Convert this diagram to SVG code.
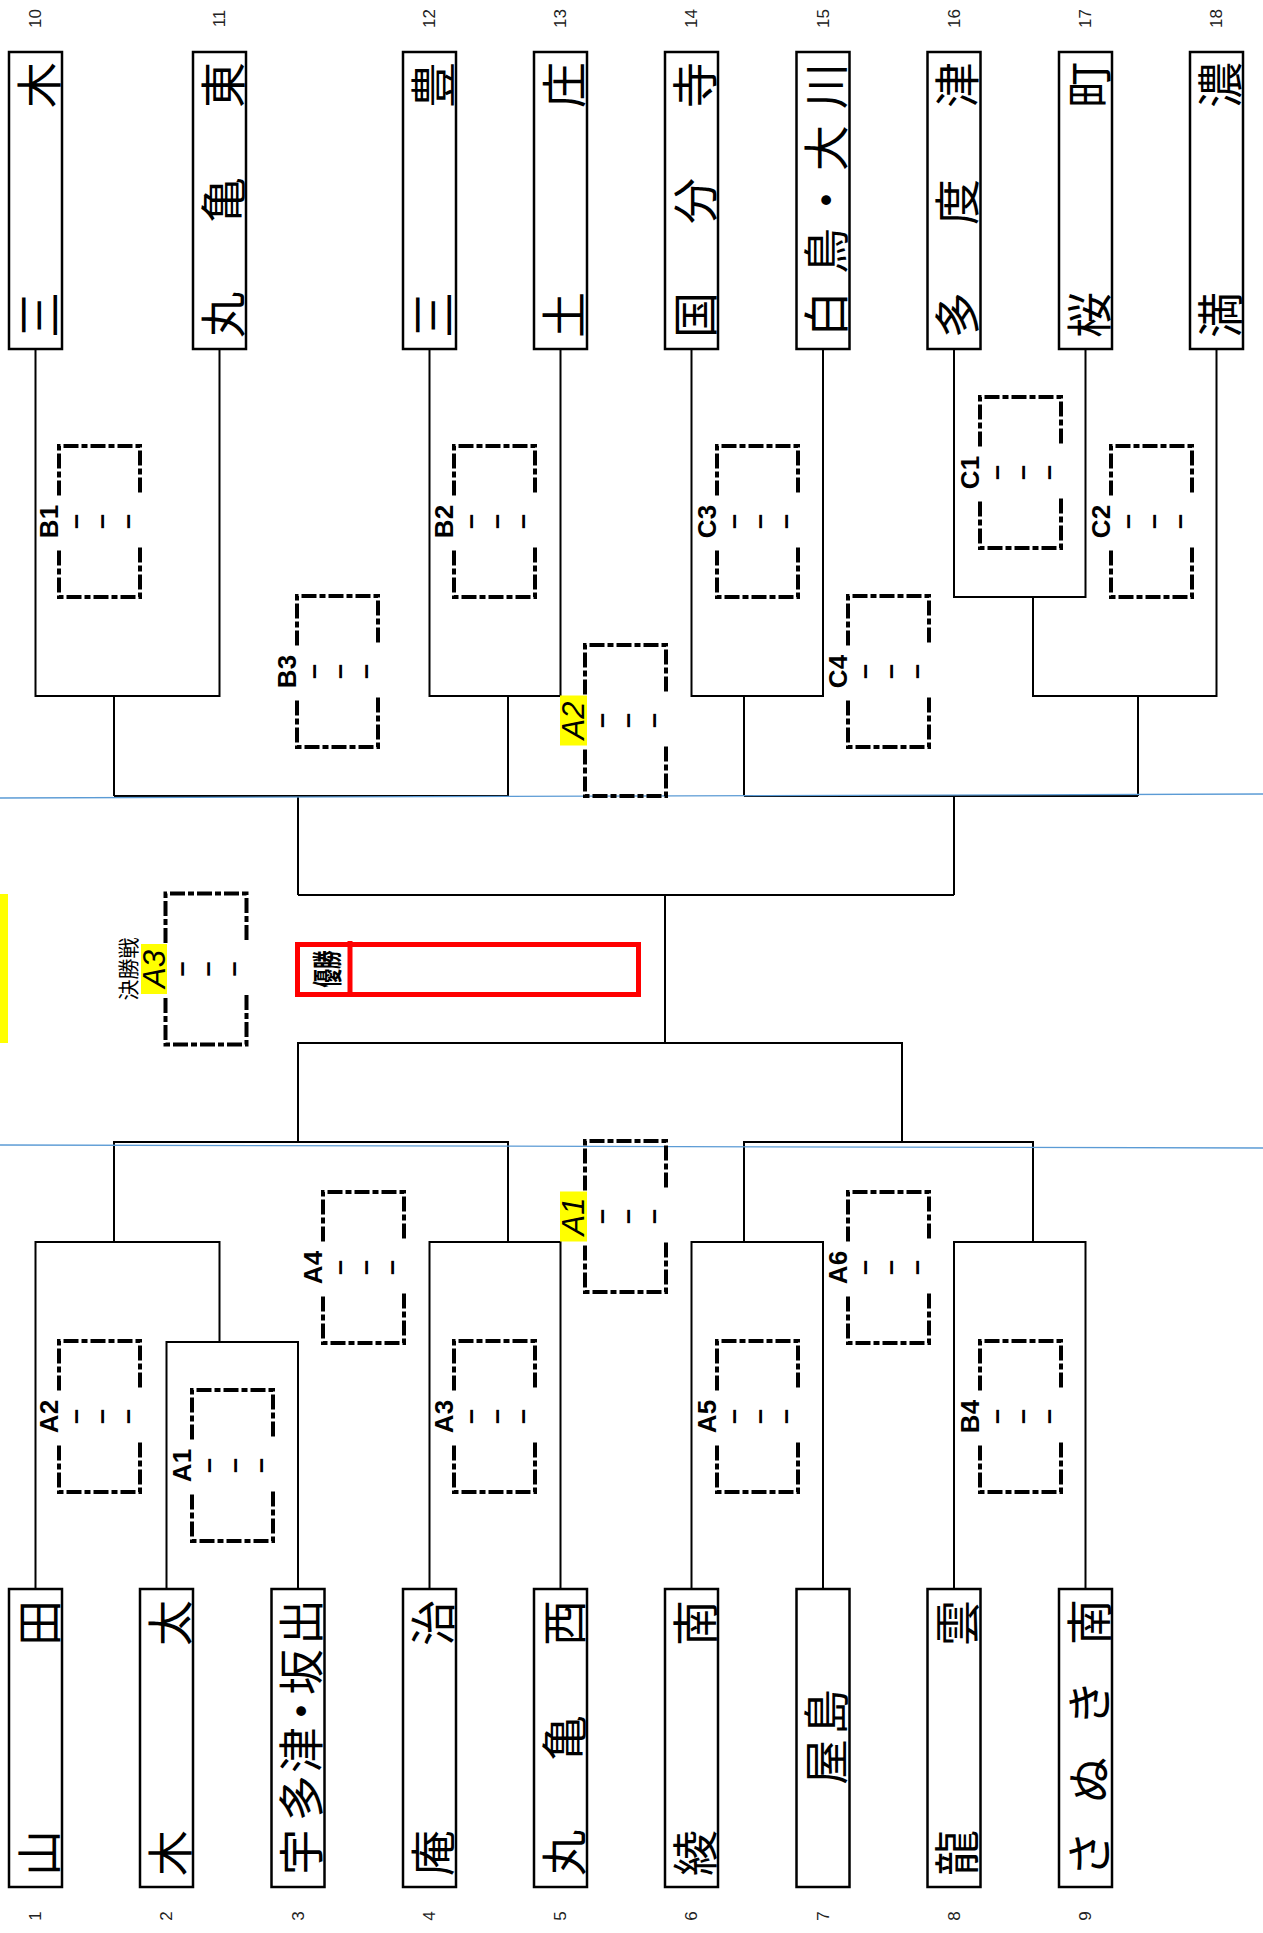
<svg xmlns="http://www.w3.org/2000/svg" xmlns:xlink="http://www.w3.org/1999/xlink" width="1263" height="1933" viewBox="0 0 1263 1933">
<style>
.ln{stroke:#000;stroke-width:2;fill:none}
.tb{fill:#fff;stroke:#000;stroke-width:2.5}
.tn{font-family:"Noto Sans CJK JP","Noto Sans CJK SC",sans-serif;font-size:46px;text-anchor:middle;dominant-baseline:central;fill:#000}
.num{font-family:"Liberation Sans",Arial,sans-serif;font-size:17px;text-anchor:middle;dominant-baseline:central;fill:#222}
.mf{fill:none;stroke:#000;stroke-width:4;stroke-dasharray:15 3 6 3}
.ml{font-family:"Liberation Sans",Arial,sans-serif;font-weight:bold;font-size:26px;text-anchor:middle;fill:#000}
.yl{font-family:"Liberation Sans",Arial,sans-serif;font-style:italic;font-size:31px;text-anchor:middle;fill:#000}
.sc{font-family:"Liberation Sans",Arial,sans-serif;font-weight:bold;font-size:27px;text-anchor:middle;dominant-baseline:central;fill:#000}
.hl{fill:#ffff00}
.blue{stroke:#5b9bd5;stroke-width:1.3;fill:none}
</style>
<defs>
<path id="frame" class="mf" d="M-40.5,-26 V-75.5 H40.5 V-26 M40.5,26 V75.5 H-40.5 V26"/>
<g id="score"><text class="sc"><tspan x="0" y="-25">–</tspan><tspan x="0" y="1">–</tspan><tspan x="0" y="27">–</tspan></text></g>
</defs>
<rect width="1263" height="1933" fill="#fff"/>

<g id="connectors">
<path class="ln" d="M35.5,349 V696 H219.5 V349"/>
<path class="ln" d="M114,696 V796"/>
<path class="ln" d="M429.5,349 V696 H560.5 V349"/>
<path class="ln" d="M508,696 V796"/>
<path class="ln" d="M114,796 H508"/>
<path class="ln" d="M298,796 V895"/>
<path class="ln" d="M691.5,349 V696 H823 V349"/>
<path class="ln" d="M744,696 V796"/>
<path class="ln" d="M954,349 V597 H1085.5 V349"/>
<path class="ln" d="M1033,597 V696 H1216.5 V349"/>
<path class="ln" d="M1138,696 V796"/>
<path class="ln" d="M744,796 H1138"/>
<path class="ln" d="M954,796 V895"/>
<path class="ln" d="M298,895 H954"/>
<path class="ln" d="M665,895 V1043"/>
<path class="ln" d="M298,1142 V1043 H902 V1142"/>
<path class="ln" d="M114,1242 V1142 H508 V1242"/>
<path class="ln" d="M744,1242 V1142 H1033 V1242"/>
<path class="ln" d="M35.5,1589 V1242 H219.5 V1342"/>
<path class="ln" d="M166.5,1589 V1342 H298 V1589"/>
<path class="ln" d="M429.5,1589 V1242 H560.5 V1589"/>
<path class="ln" d="M691.5,1589 V1242 H823 V1589"/>
<path class="ln" d="M954,1589 V1242 H1085.5 V1589"/>
</g>

<g id="guides">
<line class="blue" x1="0" y1="798" x2="1263" y2="794"/>
<line class="blue" x1="0" y1="1145" x2="1263" y2="1148"/>
<rect class="hl" x="0" y="894" width="8" height="149"/>
</g>

<g id="teams-top">
<g id="team-10"><rect class="tb" x="9" y="52" width="53" height="297"/><text class="num" transform="translate(35.5,18.5) rotate(-90)">10</text><text class="tn" transform="translate(35.5,0) rotate(-90)" x="-315 -85">三木</text></g>
<g id="team-11"><rect class="tb" x="193" y="52" width="53" height="297"/><text class="num" transform="translate(219.5,18.5) rotate(-90)">11</text><text class="tn" transform="translate(219.5,0) rotate(-90)" x="-315 -200 -85">丸亀東</text></g>
<g id="team-12"><rect class="tb" x="403" y="52" width="53" height="297"/><text class="num" transform="translate(429.5,18.5) rotate(-90)">12</text><text class="tn" transform="translate(429.5,0) rotate(-90)" x="-315 -85">三豊</text></g>
<g id="team-13"><rect class="tb" x="534" y="52" width="53" height="297"/><text class="num" transform="translate(560.5,18.5) rotate(-90)">13</text><text class="tn" transform="translate(560.5,0) rotate(-90)" x="-315 -85">土庄</text></g>
<g id="team-14"><rect class="tb" x="665" y="52" width="53" height="297"/><text class="num" transform="translate(691.5,18.5) rotate(-90)">14</text><text class="tn" transform="translate(691.5,0) rotate(-90)" x="-315 -201 -85">国分寺</text></g>
<g id="team-15"><rect class="tb" x="796.5" y="52" width="53" height="297"/><text class="num" transform="translate(823,18.5) rotate(-90)">15</text><text class="tn" transform="translate(823,0) rotate(-90)" x="-314 -251 -200 -148 -86">白鳥・大川</text></g>
<g id="team-16"><rect class="tb" x="927.5" y="52" width="53" height="297"/><text class="num" transform="translate(954,18.5) rotate(-90)">16</text><text class="tn" transform="translate(954,0) rotate(-90)" x="-315 -202 -85">多度津</text></g>
<g id="team-17"><rect class="tb" x="1059" y="52" width="53" height="297"/><text class="num" transform="translate(1085.5,18.5) rotate(-90)">17</text><text class="tn" transform="translate(1085.5,0) rotate(-90)" x="-315 -85">桜町</text></g>
<g id="team-18"><rect class="tb" x="1190" y="52" width="53" height="297"/><text class="num" transform="translate(1216.5,18.5) rotate(-90)">18</text><text class="tn" transform="translate(1216.5,0) rotate(-90)" x="-315 -85">満濃</text></g>
</g>

<g id="teams-bottom">
<g id="team-1"><rect class="tb" x="9" y="1589" width="53" height="298"/><text class="num" transform="translate(35.5,1916) rotate(-90)">1</text><text class="tn" transform="translate(35.5,0) rotate(-90)" x="-1853 -1623">山田</text></g>
<g id="team-2"><rect class="tb" x="140" y="1589" width="53" height="298"/><text class="num" transform="translate(166.5,1916) rotate(-90)">2</text><text class="tn" transform="translate(166.5,0) rotate(-90)" x="-1853 -1623">木太</text></g>
<g id="team-3"><rect class="tb" x="271.5" y="1589" width="53" height="298"/><text class="num" transform="translate(298,1916) rotate(-90)">3</text><text class="tn" transform="translate(298,0) rotate(-90)" x="-1852 -1798 -1750 -1711 -1672 -1622">宇多津・坂出</text></g>
<g id="team-4"><rect class="tb" x="403" y="1589" width="53" height="298"/><text class="num" transform="translate(429.5,1916) rotate(-90)">4</text><text class="tn" transform="translate(429.5,0) rotate(-90)" x="-1853 -1623">庵治</text></g>
<g id="team-5"><rect class="tb" x="534" y="1589" width="53" height="298"/><text class="num" transform="translate(560.5,1916) rotate(-90)">5</text><text class="tn" transform="translate(560.5,0) rotate(-90)" x="-1853 -1738 -1623">丸亀西</text></g>
<g id="team-6"><rect class="tb" x="665" y="1589" width="53" height="298"/><text class="num" transform="translate(691.5,1916) rotate(-90)">6</text><text class="tn" transform="translate(691.5,0) rotate(-90)" x="-1853 -1623">綾南</text></g>
<g id="team-7"><rect class="tb" x="796.5" y="1589" width="53" height="298"/><text class="num" transform="translate(823,1916) rotate(-90)">7</text><text class="tn" transform="translate(823,0) rotate(-90)" x="-1762 -1712">屋島</text></g>
<g id="team-8"><rect class="tb" x="927.5" y="1589" width="53" height="298"/><text class="num" transform="translate(954,1916) rotate(-90)">8</text><text class="tn" transform="translate(954,0) rotate(-90)" x="-1853 -1623">龍雲</text></g>
<g id="team-9"><rect class="tb" x="1059" y="1589" width="53" height="298"/><text class="num" transform="translate(1085.5,1916) rotate(-90)">9</text><text class="tn" transform="translate(1085.5,0) rotate(-90)" x="-1854 -1780 -1703 -1622">さぬき南</text></g>
</g>

<g id="matches">
<g id="match-B1" transform="translate(99.5,521.5)"><use xlink:href="#frame" href="#frame"/><g transform="rotate(-90)"><text class="ml" x="0" y="-42">B1</text><use xlink:href="#score" href="#score"/></g></g>
<g id="match-B2" transform="translate(494.5,521.5)"><use xlink:href="#frame" href="#frame"/><g transform="rotate(-90)"><text class="ml" x="0" y="-42">B2</text><use xlink:href="#score" href="#score"/></g></g>
<g id="match-B3" transform="translate(337.5,671.5)"><use xlink:href="#frame" href="#frame"/><g transform="rotate(-90)"><text class="ml" x="0" y="-42">B3</text><use xlink:href="#score" href="#score"/></g></g>
<g id="match-A2-top" transform="translate(625.5,720.5)"><rect class="hl" x="-65.5" y="-25" width="27" height="50"/><use xlink:href="#frame" href="#frame"/><g transform="rotate(-90)"><text class="yl" x="0" y="-42">A2</text><use xlink:href="#score" href="#score"/></g></g>
<g id="match-C3" transform="translate(757.5,521.5)"><use xlink:href="#frame" href="#frame"/><g transform="rotate(-90)"><text class="ml" x="0" y="-42">C3</text><use xlink:href="#score" href="#score"/></g></g>
<g id="match-C4" transform="translate(888.5,671.5)"><use xlink:href="#frame" href="#frame"/><g transform="rotate(-90)"><text class="ml" x="0" y="-42">C4</text><use xlink:href="#score" href="#score"/></g></g>
<g id="match-C1" transform="translate(1020.5,472.5)"><use xlink:href="#frame" href="#frame"/><g transform="rotate(-90)"><text class="ml" x="0" y="-42">C1</text><use xlink:href="#score" href="#score"/></g></g>
<g id="match-C2" transform="translate(1151.5,521.5)"><use xlink:href="#frame" href="#frame"/><g transform="rotate(-90)"><text class="ml" x="0" y="-42">C2</text><use xlink:href="#score" href="#score"/></g></g>

<g id="match-A2-bottom" transform="translate(99.5,1416.5)"><use xlink:href="#frame" href="#frame"/><g transform="rotate(-90)"><text class="ml" x="0" y="-42">A2</text><use xlink:href="#score" href="#score"/></g></g>
<g id="match-A1-bottom" transform="translate(232.5,1465.5)"><use xlink:href="#frame" href="#frame"/><g transform="rotate(-90)"><text class="ml" x="0" y="-42">A1</text><use xlink:href="#score" href="#score"/></g></g>
<g id="match-A4" transform="translate(363.5,1267.5)"><use xlink:href="#frame" href="#frame"/><g transform="rotate(-90)"><text class="ml" x="0" y="-42">A4</text><use xlink:href="#score" href="#score"/></g></g>
<g id="match-A3-bottom" transform="translate(494.5,1416.5)"><use xlink:href="#frame" href="#frame"/><g transform="rotate(-90)"><text class="ml" x="0" y="-42">A3</text><use xlink:href="#score" href="#score"/></g></g>
<g id="match-A1-semi" transform="translate(625.5,1216.5)"><rect class="hl" x="-65.5" y="-25" width="27" height="50"/><use xlink:href="#frame" href="#frame"/><g transform="rotate(-90)"><text class="yl" x="0" y="-42">A1</text><use xlink:href="#score" href="#score"/></g></g>
<g id="match-A5" transform="translate(757.5,1416.5)"><use xlink:href="#frame" href="#frame"/><g transform="rotate(-90)"><text class="ml" x="0" y="-42">A5</text><use xlink:href="#score" href="#score"/></g></g>
<g id="match-A6" transform="translate(888.5,1267.5)"><use xlink:href="#frame" href="#frame"/><g transform="rotate(-90)"><text class="ml" x="0" y="-42">A6</text><use xlink:href="#score" href="#score"/></g></g>
<g id="match-B4" transform="translate(1020.5,1416.5)"><use xlink:href="#frame" href="#frame"/><g transform="rotate(-90)"><text class="ml" x="0" y="-42">B4</text><use xlink:href="#score" href="#score"/></g></g>

<g id="match-final" transform="translate(206,969)"><rect class="hl" x="-65" y="-25" width="26" height="50"/><use xlink:href="#frame" href="#frame"/><g transform="rotate(-90)"><text class="yl" x="0" y="-41">A3</text><text x="0" y="-70" style="font-family:'Noto Sans CJK JP','Noto Sans CJK SC',sans-serif;font-size:21px;text-anchor:middle;fill:#000">決勝戦</text><use xlink:href="#score" href="#score"/></g></g>
</g>

<g id="winner">
<rect x="297.5" y="944.5" width="341" height="50" fill="none" stroke="#ff0000" stroke-width="5"/>
<line x1="350" y1="941" x2="350" y2="997" stroke="#ff0000" stroke-width="5"/>
<text transform="translate(325,969) rotate(-90) scale(0.62,1)" style="font-family:'Noto Sans CJK JP','Noto Sans CJK SC',sans-serif;font-weight:bold;font-size:30px;text-anchor:middle;dominant-baseline:central;fill:#000">優勝</text>
</g>
</svg>
